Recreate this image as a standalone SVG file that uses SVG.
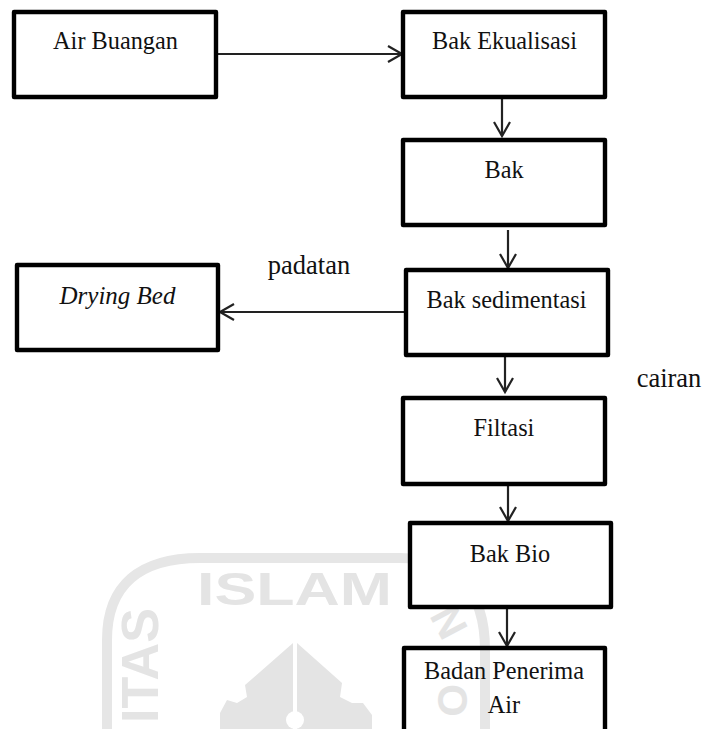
<svg xmlns="http://www.w3.org/2000/svg" width="704" height="729" viewBox="0 0 704 729">
<style>
.box{fill:#fff;stroke:#000;stroke-width:4.4;stroke-linejoin:round}
.t{font-family:"Liberation Serif","Times New Roman",serif;font-size:24.3px;fill:#111;text-anchor:middle}
.l{font-size:26.5px}
.c{fill:none;stroke:#222;stroke-width:2.2}
.w{font-family:"Liberation Sans",Arial,sans-serif;font-weight:bold;fill:#e4e4e4}
</style>
<defs>
<marker id="a" markerUnits="userSpaceOnUse" markerWidth="20" markerHeight="26" refX="16" refY="13" orient="auto"><path d="M2 5 L16 13 L2 21" fill="none" stroke="#222" stroke-width="2.2"/></marker>
</defs>
<rect width="704" height="729" fill="#fff"/>
<g id="watermark">
<path d="M107 729 V640 C107 585 140 558 200 558 H400 C455 558 485 590 485 650 V729" fill="none" stroke="#e6e6e6" stroke-width="10"/>
<text class="w" x="197" y="605" style="font-size:46px" textLength="195" lengthAdjust="spacingAndGlyphs">ISLAM</text>
<text class="w" transform="translate(158 723) rotate(-90)" style="font-size:52px" textLength="115" lengthAdjust="spacingAndGlyphs">ITAS</text>
<text class="w" text-anchor="middle" transform="translate(436 629) rotate(62)" style="font-size:42px">N</text>
<text class="w" transform="translate(438 684) rotate(90)" style="font-size:42px">O</text>
<path d="M293 643 V729 H220 V713 L227 700 L237 703 L247 697 L245 685 Z" fill="#e4e4e4"/>
<path d="M297 643 V729 H372 V715 L363 703 L352 703 L340 697 L342 683 Z" fill="#e4e4e4"/>
<circle cx="295" cy="720" r="9" fill="#fff"/>
</g>
<g id="connectors">
<line class="c" x1="217" y1="54" x2="402" y2="54" marker-end="url(#a)"/>
<line class="c" x1="502" y1="97" x2="502" y2="136" marker-end="url(#a)"/>
<line class="c" x1="508" y1="230" x2="508" y2="268" marker-end="url(#a)"/>
<line class="c" x1="405" y1="312" x2="220" y2="312" marker-end="url(#a)"/>
<line class="c" x1="505" y1="355" x2="505" y2="392" marker-end="url(#a)"/>
<line class="c" x1="508" y1="484" x2="508" y2="521" marker-end="url(#a)"/>
<line class="c" x1="507" y1="608" x2="507" y2="646" marker-end="url(#a)"/>
</g>
<g id="air-buangan"><rect class="box" x="14" y="12" width="202" height="85"/><text class="t" x="115.5" y="49">Air Buangan</text></g>
<g id="bak-ekualisasi"><rect class="box" x="403" y="12" width="202" height="85"/><text class="t" x="504.5" y="49">Bak Ekualisasi</text></g>
<g id="bak"><rect class="box" x="403" y="140" width="202" height="85"/><text class="t" x="504" y="178">Bak</text></g>
<g id="bak-sedimentasi"><rect class="box" x="406" y="270" width="202" height="85"/><text class="t" x="506.5" y="308">Bak sedimentasi</text></g>
<g id="drying-bed"><rect class="box" x="17" y="265" width="201" height="85"/><text class="t" x="117.5" y="304" font-style="italic" style="font-size:25px">Drying Bed</text></g>
<g id="filtasi"><rect class="box" x="403" y="398" width="202" height="86"/><text class="t" x="504" y="436">Filtasi</text></g>
<g id="bak-bio"><rect class="box" x="410" y="523" width="201" height="84"/><text class="t" x="510" y="562">Bak Bio</text></g>
<g id="badan-penerima-air"><rect class="box" x="404" y="648" width="201" height="95" style="fill:none"/><text class="t" x="504" y="679">Badan Penerima</text><text class="t" x="504" y="713">Air</text></g>
<g id="labels"><text class="t l" x="309" y="274">padatan</text><text class="t l" x="669" y="387">cairan</text></g>
</svg>
